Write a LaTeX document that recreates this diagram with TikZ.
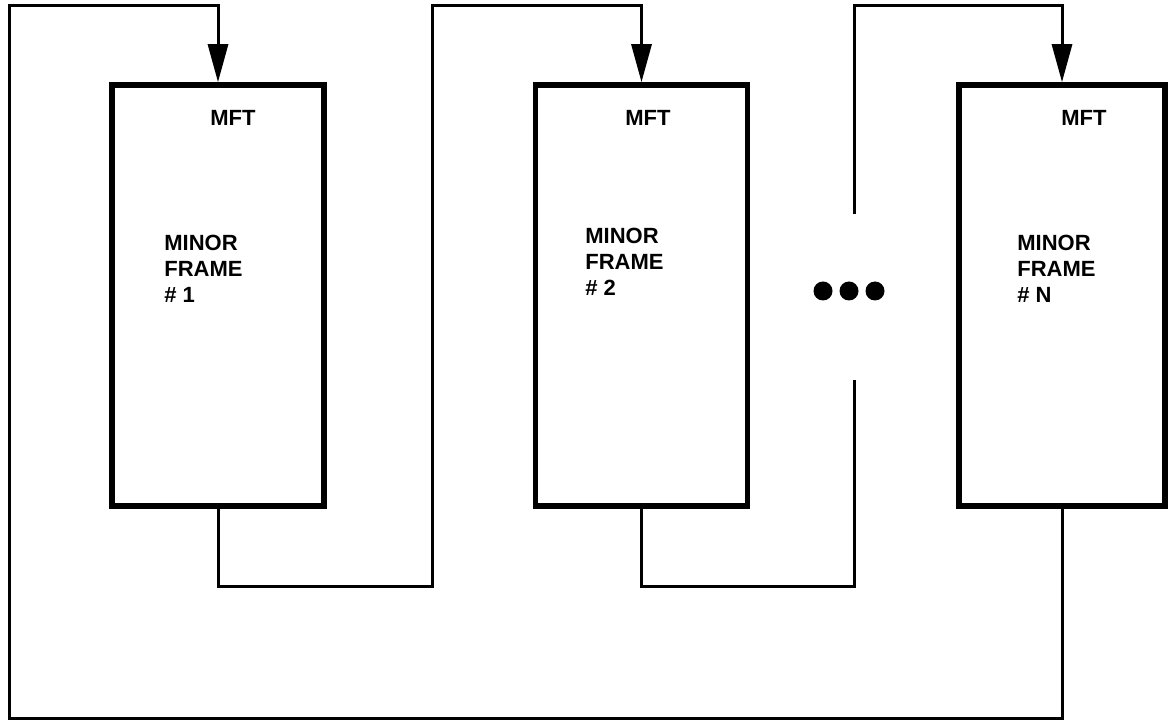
\documentclass[tikz,border=0pt]{standalone}
\usepackage{fontspec}
\setmainfont{Liberation Sans}
\usepackage{tikz}
\usetikzlibrary{arrows.meta,positioning}

\begin{document}
\begin{tikzpicture}[x=0.5pt, y=-0.5pt,
    frm/.style={draw, line width=2.8pt, minimum width=106pt, minimum height=210.5pt,
                inner sep=0pt},
    lbl/.style={font=\bfseries\fontsize{11}{13}\selectfont, align=left,
                anchor=north west, inner sep=0pt},
    ttl/.style={font=\bfseries\fontsize{11}{13}\selectfont, inner sep=0pt},
    wire/.style={line width=1.5pt},
    link/.style={wire, -{Triangle[length=19pt, width=10pt]}}
  ]
    \useasboundingbox (0,0) rectangle (1168,721);

    % minor frames
    \node[frm]                          (mf1) at (218,295.5)  {};
    \node[frm]                          (mf2) at (641.5,295.5) {};
    \node[frm, minimum width=103pt]     (mfn) at (1062,295.5) {};

    \node[ttl] (mft1) at (233,118)  {MFT};
    \node[ttl] (mft2) at (648,118)  {MFT};
    \node[ttl] (mftn) at (1084,118) {MFT};

    \node[lbl] (lb1) at (164,235) {MINOR\\FRAME\\\# 1};
    \node[lbl] (lb2) at (585,228) {MINOR\\FRAME\\\# 2};
    \node[lbl] (lbn) at (1017,235) {MINOR\\FRAME\\\# N};

    % turning points of the connectors
    \coordinate (s1) at (432,587);
    \coordinate (t1) at (432,6);
    \coordinate (s2) at (854,587);
    \coordinate (g2) at (854,380);
    \coordinate (g3) at (854,214);
    \coordinate (t2) at (854,6);
    \coordinate (rb) at (9,718);
    \coordinate (rt) at (9,6);

    \draw[link] (mfn.south) |- (rb) -- (rt) -| (mf1.north);
    \draw[link] (mf1.south) |- (s1) -- (t1) -| (mf2.north);
    \draw[wire] (mf2.south) |- (s2) -- (g2);
    \draw[link] (g3) -- (t2) -| (mfn.north);

    % dots
    \foreach \x in {823,849,875}
      \fill (\x,291) circle[radius=4.75pt];
  \end{tikzpicture}
\end{document}
